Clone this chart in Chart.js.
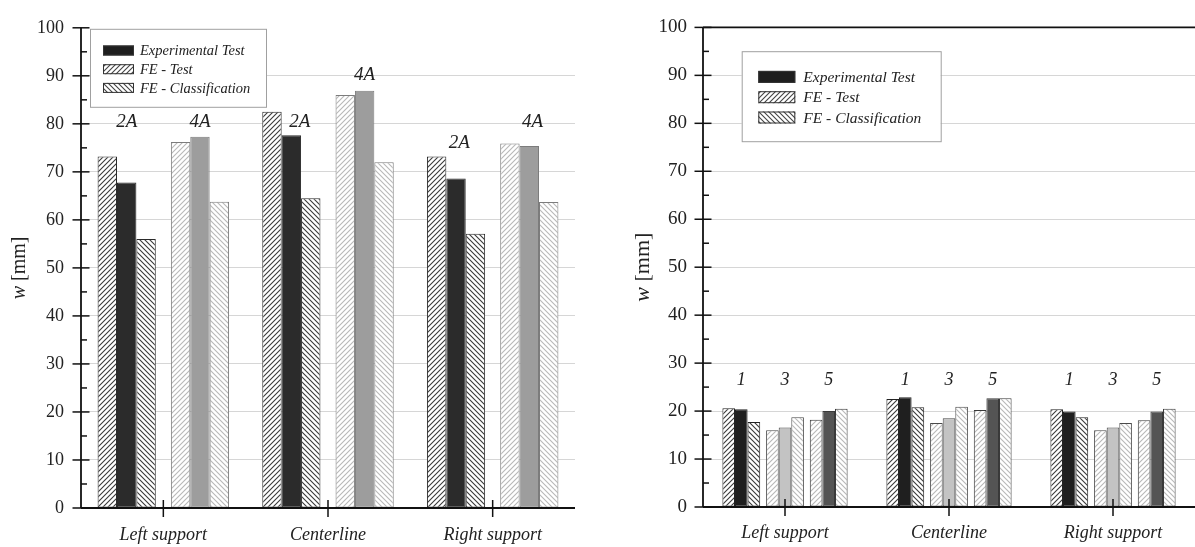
<!DOCTYPE html>
<html>
<head>
<meta charset="utf-8">
<title>w [mm] by support position</title>
<script src="https://cdn.jsdelivr.net/npm/chart.js@4.4.1/dist/chart.umd.min.js"></script>
<style>
  html, body { margin: 0; padding: 0; background: #fff; }
  body { width: 1195px; height: 547px; position: relative; overflow: hidden; }
  canvas { position: absolute; top: 0; }
  #leftChart { left: 0; }
  #rightChart { left: 597px; }
</style>
</head>
<body>
<canvas id="leftChart" width="590" height="547"></canvas>
<canvas id="rightChart" width="598" height="547"></canvas>
<script>
const SERIF = "'Liberation Serif', 'Times New Roman', serif";

// x axis positions (both panels)
const categories = ["Left support", "Centerline", "Right support"];

// left panel: load cases 2A and 4A at each position
// order: Left 2A, Left 4A, Centerline 2A, Centerline 4A, Right 2A, Right 4A
const leftCases = ["2A", "4A"];
const leftExperimental = [67.8, 77.3, 77.6, 86.9, 68.6, 75.4];
const leftFETest = [73.2, 76.2, 82.5, 86.0, 73.2, 75.9];
const leftFEClass = [56.0, 63.8, 64.5, 72.0, 57.1, 63.7];
const leftTagLevels = [80.4, 80.4, 80.4, 90.2, 76.1, 80.4]; // w where the case tag sits

// right panel: load cases 1, 3 and 5 at each position
const rightCases = ["1", "3", "5"];
const rightExperimental = [20.4, 16.6, 20.0, 22.9, 18.5, 22.7, 19.9, 16.6, 19.9];
const rightFETest = [20.6, 16.0, 18.2, 22.5, 17.5, 20.2, 20.4, 16.0, 18.1];
const rightFEClass = [17.7, 18.7, 20.5, 20.8, 20.9, 22.7, 18.7, 17.5, 20.5];
const rightTagLevels = [26.5, 26.5, 26.5, 26.5, 26.5, 26.5, 26.5, 26.5, 26.5];

const yMin = 0, yMax = 100, yStep = 10;

// diagonal hatch fill
function hatch(ctx, dir, ink) {
    const s = 5;
    const tile = document.createElement("canvas");
    tile.width = s; tile.height = s;
    const g = tile.getContext("2d");
    g.fillStyle = "#fff";
    g.fillRect(0, 0, s, s);
    g.strokeStyle = ink;
    g.lineWidth = 1.1;
    g.beginPath();
    if (dir === "/") {
        g.moveTo(-1, s + 1); g.lineTo(s + 1, -1);
        g.moveTo(-1, 1); g.lineTo(1, -1);
        g.moveTo(s - 1, s + 1); g.lineTo(s + 1, s - 1);
    } else {
        g.moveTo(-1, -1); g.lineTo(s + 1, s + 1);
        g.moveTo(s - 1, -1); g.lineTo(s + 1, 1);
        g.moveTo(-1, s - 1); g.lineTo(1, s + 1);
    }
    g.stroke();
    return ctx.createPattern(tile, "repeat");
}

function line(ctx, x1, y1, x2, y2) {
    ctx.beginPath();
    ctx.moveTo(x1, y1);
    ctx.lineTo(x2, y2);
    ctx.stroke();
}

// axes, ticks, case tags, legend box and y title
const decor = {
    id: "decor",
    afterDatasetsDraw(chart, args, o) {
        const { ctx, chartArea: a, scales: { x, y } } = chart;
        ctx.save();
        ctx.strokeStyle = "#111";
        ctx.lineWidth = 1.8;
        line(ctx, a.left, a.top, a.left, a.bottom);
        line(ctx, a.left, a.bottom, a.right, a.bottom);
        if (o.topFrame) line(ctx, a.left, a.top, a.right, a.top);
        ctx.lineWidth = 1.5;
        for (let v = yMin; v <= yMax; v += yStep / 2) {
            const py = y.getPixelForValue(v);
            if (v % yStep === 0) line(ctx, a.left - 8.5, py, a.left + 8.5, py);
            else line(ctx, a.left, py, a.left + 6, py);
        }
        categories.forEach((c, i) => {
            const px = x.getPixelForValue(i);
            line(ctx, px, a.bottom - 8, px, a.bottom + 9);
        });

        // case tags above the groups
        ctx.fillStyle = "#222";
        ctx.font = "italic " + o.tagFont + "px " + SERIF;
        ctx.textAlign = "center";
        ctx.textBaseline = "middle";
        o.tagLevels.forEach((lv, i) => {
            const px = x.getPixelForValue(o.xOf(i) + (o.tagShift[i] || 0));
            ctx.fillText(o.cases[i % o.cases.length], px, y.getPixelForValue(lv));
        });

        // legend box
        const L = o.legend;
        const bx = a.left + L.dx, by = a.top + L.dy;
        ctx.fillStyle = "#fff";
        ctx.fillRect(bx, by, L.w, L.h);
        ctx.strokeStyle = "#a0a0a0";
        ctx.lineWidth = 1;
        ctx.strokeRect(bx + 0.5, by + 0.5, L.w, L.h);
        ctx.font = "italic " + L.font + "px " + SERIF;
        ctx.textAlign = "left";
        o.legendItems.forEach((it, k) => {
            const cy = by + L.row0 + k * L.rowGap;
            ctx.fillStyle = it.fill;
            ctx.fillRect(bx + L.sx, cy - L.sh / 2, L.sw, L.sh);
            ctx.strokeStyle = "#333";
            ctx.strokeRect(bx + L.sx + 0.5, cy - L.sh / 2 + 0.5, L.sw - 1, L.sh - 1);
            ctx.fillStyle = "#222";
            ctx.fillText(it.label, bx + L.tx, cy + 1);
        });
        ctx.restore();
    },
    afterDraw(chart, args, o) {
        const { ctx, chartArea: a } = chart;
        ctx.save();
        ctx.translate(o.titleX, (a.top + a.bottom) / 2);
        ctx.rotate(-Math.PI / 2);
        ctx.fillStyle = "#222";
        ctx.textBaseline = "middle";
        const fi = "italic " + o.titleFont + "px " + SERIF;
        const fn = o.titleFont + "px " + SERIF;
        ctx.font = fi;
        const w1 = ctx.measureText("w").width;
        ctx.font = fn;
        const w2 = ctx.measureText(" [mm]").width;
        let sx = -(w1 + w2) / 2;
        ctx.font = fi;
        ctx.textAlign = "left";
        ctx.fillText("w", sx, 0);
        ctx.font = fn;
        ctx.fillText(" [mm]", sx + w1, 0);
        ctx.restore();
    }
};

function buildPanel(id, p) {
    const canvas = document.getElementById(id);
    const ctx = canvas.getContext("2d");
    const n = p.cases.length;
    // bar group position: category index plus the case slot
    const xOf = i => Math.floor(i / n) + (i % n - (n - 1) / 2) * p.caseStep;

    const looks = p.looks.map(l => ({
        feTest: hatch(ctx, "/", l.ink),
        exp: l.solid,
        feClass: hatch(ctx, "\\", l.ink),
        border: l.border
    }));

    const series = [
        { label: "FE - Test", values: p.feTest, key: "feTest" },
        { label: "Experimental Test", values: p.exp, key: "exp" },
        { label: "FE - Classification", values: p.feClass, key: "feClass" }
    ];

    const datasets = series.map(s => ({
        label: s.label,
        data: s.values.map((v, i) => ({ x: xOf(i), y: v })),
        backgroundColor: s.values.map((v, i) => looks[i % n][s.key]),
        borderColor: s.values.map((v, i) => looks[i % n].border),
        borderWidth: 1,
        borderSkipped: false,
        categoryPercentage: p.catPct,
        barPercentage: 1
    }));

    const legendItems = [
        { label: "Experimental Test", fill: "#1e1e1e" },
        { label: "FE - Test", fill: hatch(ctx, "/", "#444") },
        { label: "FE - Classification", fill: hatch(ctx, "\\", "#444") }
    ];

    return new Chart(ctx, {
        type: "bar",
        data: { datasets: datasets },
        options: {
            responsive: false,
            animation: false,
            events: [],
            layout: { padding: { top: p.top, right: p.padRight, left: 0, bottom: 0 } },
            plugins: {
                legend: { display: false },
                tooltip: { enabled: false },
                decor: {
                    topFrame: p.topFrame,
                    cases: p.cases,
                    tagLevels: p.tagLevels,
                    tagShift: p.tagShift,
                    tagFont: p.tagFont,
                    xOf: xOf,
                    legend: p.legend,
                    legendItems: legendItems,
                    titleX: p.titleX,
                    titleFont: p.titleFont
                }
            },
            scales: {
                x: {
                    type: "linear",
                    min: -0.5,
                    max: categories.length - 0.5,
                    offset: false,
                    afterBuildTicks: s => { s.ticks = categories.map((c, i) => ({ value: i })); },
                    afterFit: s => { s.height = p.xAxisH; },
                    grid: { display: false, drawTicks: false },
                    border: { display: false },
                    ticks: {
                        autoSkip: false,
                        maxRotation: 0,
                        padding: p.xPad,
                        color: "#222",
                        font: { family: SERIF, size: 18, style: "italic" },
                        callback: (v, i) => categories[i]
                    }
                },
                y: {
                    min: yMin,
                    max: yMax,
                    afterFit: s => { s.width = p.yAxisW; },
                    grid: {
                        drawTicks: false,
                        lineWidth: 1,
                        color: c => (c.tick.value === yMin || c.tick.value === yMax) ? "rgba(0,0,0,0)" : "#d6d6d6"
                    },
                    border: { display: false },
                    ticks: {
                        stepSize: yStep,
                        padding: p.yPad,
                        color: "#222",
                        font: { family: SERIF, size: p.yFont }
                    }
                }
            }
        },
        plugins: [decor]
    });
}

buildPanel("leftChart", {
    cases: leftCases,
    exp: leftExperimental,
    feTest: leftFETest,
    feClass: leftFEClass,
    tagLevels: leftTagLevels,
    tagShift: [0, 0, 0.052, 0, 0.02, 0.02],
    tagFont: 19,
    looks: [
        { ink: "#3a3a3a", solid: "#2b2b2b", border: "#2a2a2a" },
        { ink: "#b8b8b8", solid: "#9d9d9d", border: "#7c7c7c" }
    ],
    caseStep: 0.445,
    catPct: 0.794,
    top: 20,
    padRight: 15,
    yAxisW: 81,
    xAxisH: 39,
    xPad: 16,
    yPad: 17,
    yFont: 18,
    topFrame: false,
    titleX: 20,
    titleFont: 20,
    legend: { dx: 9, dy: 1, w: 176, h: 78, sx: 13, sw: 31, sh: 10, tx: 50, row0: 21.7, rowGap: 18.7, font: 14.5 }
});

buildPanel("rightChart", {
    cases: rightCases,
    exp: rightExperimental,
    feTest: rightFETest,
    feClass: rightFEClass,
    tagLevels: rightTagLevels,
    tagShift: [],
    tagFont: 18,
    looks: [
        { ink: "#3a3a3a", solid: "#1f1f1f", border: "#222" },
        { ink: "#b8b8b8", solid: "#c3c3c3", border: "#4a4a4a" },
        { ink: "#b8b8b8", solid: "#545454", border: "#3a3a3a" }
    ],
    caseStep: 0.2665,
    catPct: 0.865,
    top: 15.5,
    padRight: 0,
    yAxisW: 106,
    xAxisH: 40,
    xPad: 15,
    yPad: 16,
    yFont: 19,
    topFrame: true,
    titleX: 46,
    titleFont: 22,
    legend: { dx: 38.7, dy: 23.8, w: 199, h: 90, sx: 16.6, sw: 37, sh: 12, tx: 61.6, row0: 25.7, rowGap: 20.3, font: 15.5 }
});
</script>
</body>
</html>
